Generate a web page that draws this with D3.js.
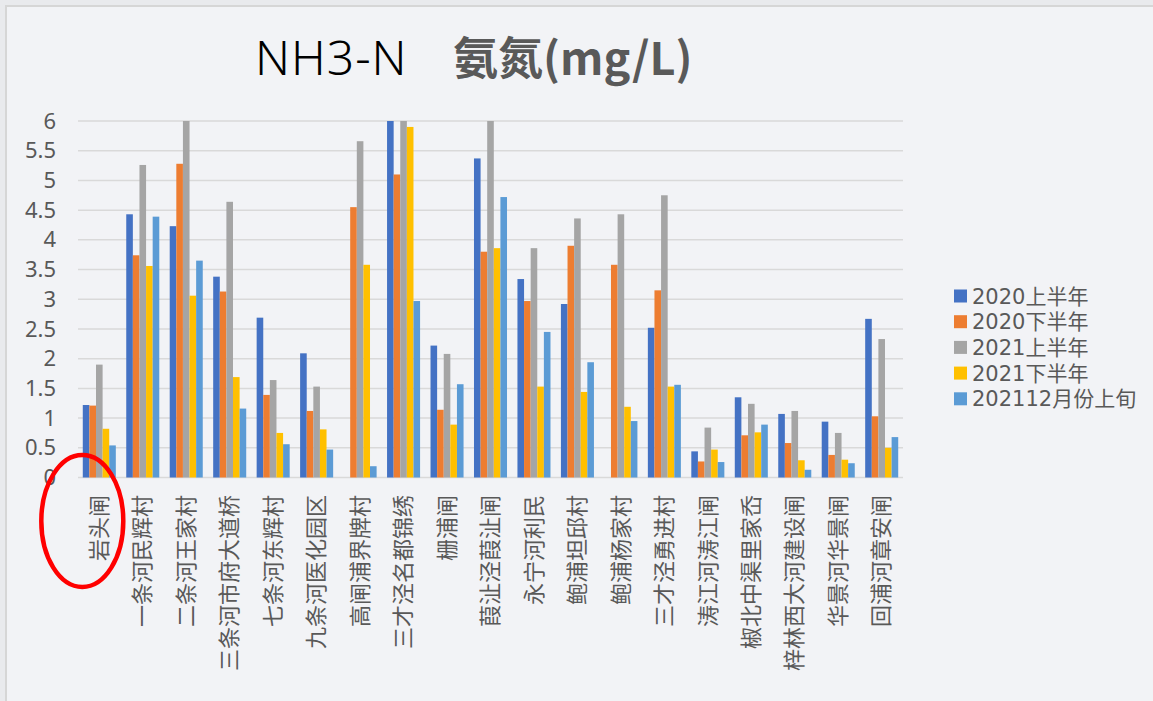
<!DOCTYPE html>
<html>
<head>
<meta charset="utf-8">
<script src="https://cdn.jsdelivr.net/npm/d3@7"></script>
<style>
  html, body { margin: 0; padding: 0; background: #e9eaed; }
  svg { display: block; }
</style>
</head>
<body>
<svg width="1153" height="701"></svg>
<script>
var sites = ["岩头闸", "一条河民辉村", "二条河王家村", "三条河市府大道桥", "七条河东辉村",
    "九条河医化园区", "高闸浦界牌村", "三才泾名都锦绣", "栅浦闸", "葭沚泾葭沚闸",
    "永宁河利民", "鲍浦坦邱村", "鲍浦杨家村", "三才泾勇进村", "涛江河涛江闸",
    "椒北中渠里家岙", "梓林西大河建设闸", "华景河华景闸", "回浦河章安闸"];

var seriesNames = ["2020上半年", "2020下半年", "2021上半年", "2021下半年", "202112月份上旬"];

var h2020a = [1.22, 4.43, 4.23, 3.38, 2.69, 2.09, 0, 6.0, 2.22, 5.37, 3.34, 2.92, 0, 2.52, 0.44, 1.35, 1.07, 0.94, 2.67];
var h2020b = [1.21, 3.74, 5.28, 3.13, 1.39, 1.12, 4.55, 5.10, 1.14, 3.80, 2.97, 3.90, 3.58, 3.15, 0.27, 0.71, 0.58, 0.38, 1.03];
var h2021a = [1.90, 5.26, 6.0, 4.64, 1.64, 1.53, 5.66, 6.0, 2.08, 6.0, 3.86, 4.36, 4.43, 4.75, 0.84, 1.24, 1.12, 0.75, 2.33];
var h2021b = [0.82, 3.56, 3.06, 1.69, 0.75, 0.81, 3.58, 5.90, 0.89, 3.86, 1.53, 1.44, 1.19, 1.53, 0.47, 0.76, 0.29, 0.30, 0.50];
var dec2021 = [0.54, 4.39, 3.65, 1.16, 0.56, 0.47, 0.19, 2.97, 1.57, 4.72, 2.45, 1.94, 0.95, 1.56, 0.26, 0.89, 0.13, 0.24, 0.68];

var yTicks = [0, 0.5, 1, 1.5, 2, 2.5, 3, 3.5, 4, 4.5, 5, 5.5, 6];
var colors = ["#4472C4", "#ED7D31", "#A5A5A5", "#FFC000", "#5B9BD5"];

var allSeries = [h2020a, h2020b, h2021a, h2021b, dec2021];

var svg = d3.select("svg"),
    font = "'Noto Sans CJK SC', 'Noto Sans', sans-serif",
    legendFont = "'DejaVu Sans', 'Noto Sans CJK SC', sans-serif",
    textColor = "#595959";

// card background
svg.append("rect")
    .attr("x", 6).attr("y", 6)
    .attr("width", 1153).attr("height", 701)
    .attr("fill", "#f2f3f6")
    .attr("stroke", "#d6d6d6")
    .attr("stroke-width", 2);

var x0 = d3.scaleBand()
    .domain(sites)
    .range([78, 903])
    .paddingInner(0.24)
    .paddingOuter(0.11);

var x1 = d3.scaleBand()
    .domain(d3.range(seriesNames.length))
    .range([0, x0.bandwidth()]);

var y = d3.scaleLinear()
    .domain([0, 6])
    .range([477.5, 121]);

// gridlines
svg.append("g")
    .selectAll("line")
    .data(yTicks)
    .join("line")
    .attr("x1", 78).attr("x2", 903)
    .attr("y1", function (d) { return y(d); })
    .attr("y2", function (d) { return y(d); })
    .attr("stroke", "#d9d9d9")
    .attr("stroke-width", 1.5);

// y axis labels
var yAxis = d3.axisLeft(y).tickValues(yTicks).tickFormat(d3.format("~g")).tickSize(0).tickPadding(0);
var gy = svg.append("g")
    .attr("transform", "translate(56,0)")
    .call(yAxis);
gy.select(".domain").remove();
gy.selectAll("text")
    .attr("font-family", "'Noto Sans', sans-serif")
    .attr("font-size", 22)
    .attr("fill", textColor);

// bars
var groups = svg.append("g")
    .selectAll("g")
    .data(sites)
    .join("g")
    .attr("transform", function (d) { return "translate(" + x0(d) + ",0)"; });

groups.selectAll("rect")
    .data(function (d, i) {
        return allSeries.map(function (s, k) { return {k: k, v: s[i]}; });
    })
    .join("rect")
    .attr("x", function (d) { return x1(d.k); })
    .attr("width", x1.bandwidth())
    .attr("y", function (d) { return y(d.v); })
    .attr("height", function (d) { return y(0) - y(d.v); })
    .attr("fill", function (d) { return colors[d.k]; });

// x labels
var xAxis = d3.axisBottom(x0).tickSize(0).tickPadding(0);
var gx = svg.append("g")
    .attr("transform", "translate(0,495)")
    .call(xAxis);
gx.select(".domain").remove();
gx.selectAll("text")
    .attr("font-family", font)
    .attr("font-size", 22)
    .attr("fill", textColor)
    .attr("text-anchor", "end")
    .attr("transform", "rotate(-90)")
    .attr("x", 0)
    .attr("y", 0)
    .attr("dy", "0.35em");

// title
var title = svg.append("text")
    .attr("x", 255)
    .attr("y", 75)
    .attr("font-size", 48);
title.append("tspan")
    .attr("font-family", "'Noto Sans', sans-serif")
    .attr("font-weight", 300)
    .attr("letter-spacing", 1)
    .attr("fill", "#000")
    .text("NH3-N");
title.append("tspan")
    .attr("x", 453)
    .attr("font-family", font)
    .attr("font-weight", 700)
    .attr("font-size", 45)
    .attr("fill", textColor)
    .text("氨氮(mg/L)");

// legend
var legend = svg.append("g")
    .selectAll("g")
    .data(seriesNames)
    .join("g")
    .attr("transform", function (d, i) { return "translate(954," + (296 + i * 25.7) + ")"; });

legend.append("rect")
    .attr("x", 0).attr("y", -6.5)
    .attr("width", 13).attr("height", 13)
    .attr("fill", function (d, i) { return colors[i]; });

legend.append("text")
    .attr("x", 18)
    .attr("dy", "0.36em")
    .attr("font-family", legendFont)
    .attr("font-size", 21)
    .attr("fill", textColor)
    .text(function (d) { return d; });

// red ellipse highlighting the first site
svg.append("ellipse")
    .attr("cx", x0(sites[0]) + x0.bandwidth() / 2 - 17)
    .attr("cy", 521)
    .attr("rx", 41)
    .attr("ry", 66)
    .attr("fill", "none")
    .attr("stroke", "#ff0000")
    .attr("stroke-width", 4.5);
</script>
</body>
</html>
